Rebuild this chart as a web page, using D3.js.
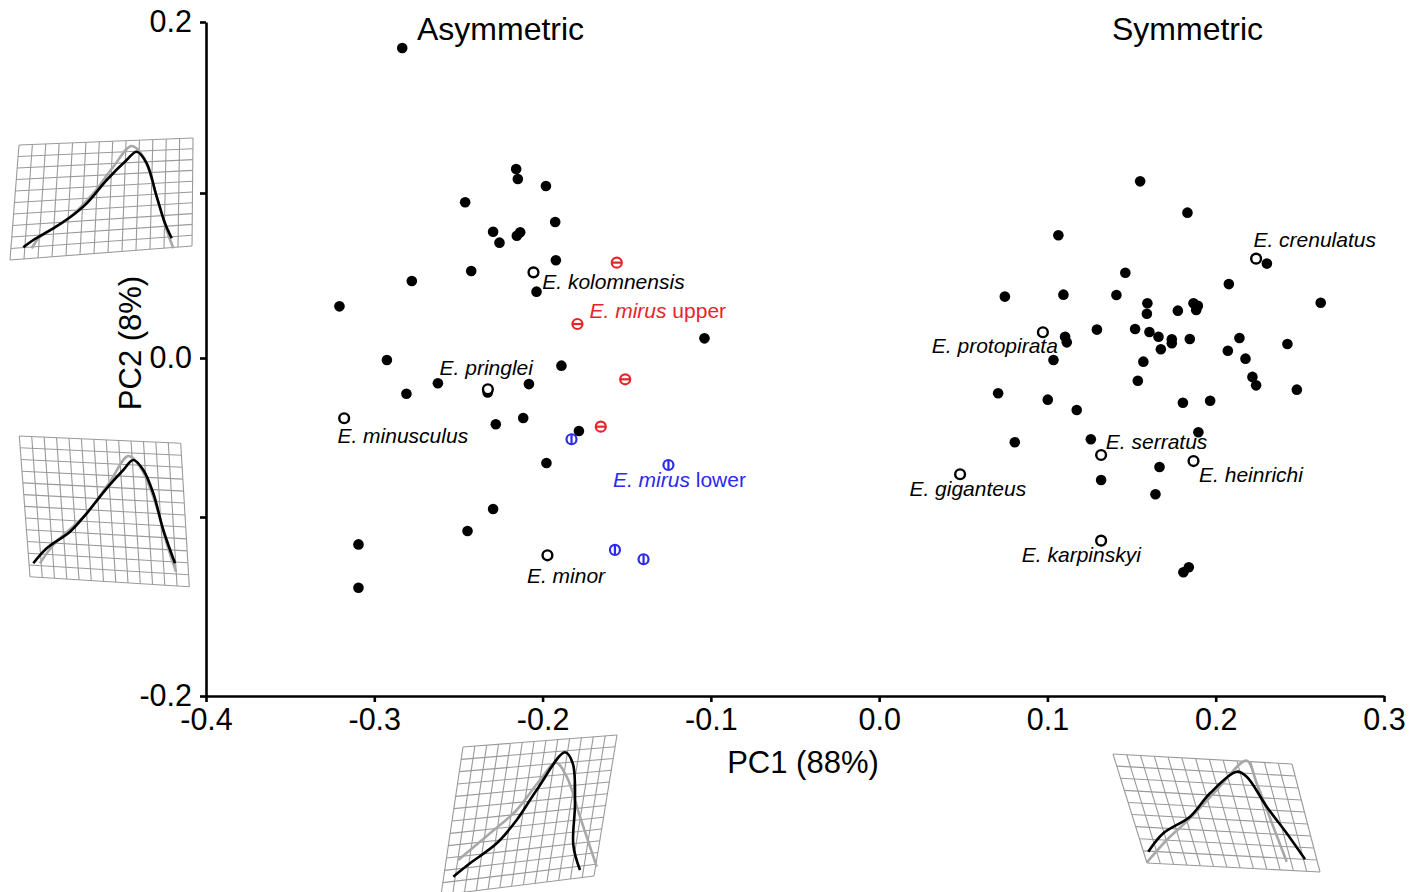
<!DOCTYPE html>
<html>
<head>
<meta charset="utf-8">
<script src="https://cdn.jsdelivr.net/npm/d3@7"></script>
<style>
  body { margin: 0; background: #fff; }
  svg text { font-family: "Liberation Sans", Arial, Helvetica, sans-serif; fill: #000; }
</style>
</head>
<body>
<svg id="chart" width="1421" height="892"></svg>
<script>
// PCA scores: [PC1, PC2]
var filledPoints = [
  [-0.2834, 0.1848], [-0.2157, 0.1140], [-0.2147, 0.1082], [-0.1980, 0.1041],
  [-0.2460, 0.0944], [-0.1925, 0.0824], [-0.2294, 0.0765], [-0.2133, 0.0762],
  [-0.2153, 0.0741], [-0.2256, 0.0699], [-0.1921, 0.0592], [-0.2424, 0.0527],
  [-0.2777, 0.0467], [-0.2036, 0.0402], [-0.3207, 0.0313], [-0.1038, 0.0119],
  [-0.2925, -0.0013], [-0.1888, -0.0048], [-0.2622, -0.0159], [-0.2081, -0.0164],
  [-0.2809, -0.0225], [-0.2326, -0.0217], [-0.2115, -0.0377], [-0.2278, -0.0417],
  [-0.1784, -0.0459], [-0.1977, -0.0660], [-0.2294, -0.0950], [-0.2446, -0.1078],
  [-0.3094, -0.1153], [-0.3094, -0.1395],
  [0.1551, 0.1068], [0.1832, 0.0881], [0.1065, 0.0744], [0.2304, 0.0572],
  [0.1463, 0.0517], [0.2078, 0.0448], [0.0747, 0.0372], [0.1095, 0.0384],
  [0.1410, 0.0382], [0.2624, 0.0335], [0.1594, 0.0332], [0.1591, 0.0268],
  [0.1775, 0.0287], [0.1868, 0.0332], [0.1894, 0.0317], [0.1884, 0.0291],
  [0.1105, 0.0129], [0.1115, 0.0095], [0.1294, 0.0172], [0.1521, 0.0176],
  [0.1606, 0.0158], [0.1660, 0.0129], [0.1739, 0.0113], [0.1739, 0.0089],
  [0.1674, 0.0053], [0.1846, 0.0115], [0.2141, 0.0121], [0.2072, 0.0044],
  [0.2177, -0.0004], [0.2426, 0.0085], [0.1036, -0.0013], [0.1570, -0.0023],
  [0.1537, -0.0143], [0.2218, -0.0119], [0.2240, -0.0172], [0.2482, -0.0199],
  [0.0707, -0.0222], [0.1002, -0.0262], [0.1174, -0.0327], [0.1805, -0.0281],
  [0.1967, -0.0269], [0.0806, -0.0530], [0.1258, -0.0511], [0.1897, -0.0467],
  [0.1666, -0.0686], [0.1319, -0.0767], [0.1642, -0.0857], [0.1840, -0.1281],
  [0.1808, -0.1309]
];

// named type specimens (open circles)
var typeNames = ["kolomnensis", "pringlei", "minusculus", "minor",
  "crenulatus", "protopirata", "serratus", "heinrichi", "giganteus", "karpinskyi"];
var typePoints = [
  [-0.2054, 0.0519], [-0.2325, -0.0197], [-0.3179, -0.0379], [-0.1971, -0.1214],
  [0.2240, 0.0602], [0.0973, 0.0156], [0.1319, -0.0610], [0.1868, -0.0648],
  [0.0481, -0.0731], [0.1319, -0.1132]
];
// where each name sits (start of text, baseline), in PC units
var typeLabelAt = [
  [-0.2002, 0.0418], [-0.2612, -0.0107], [-0.3219, -0.0535], [-0.2093, -0.1369],
  [0.2224, 0.0670], [0.0313, 0.0030], [0.1347, -0.0572], [0.1901, -0.0777],
  [0.0180, -0.0871], [0.0848, -0.1249]
];

var mirusUpper = [[-0.1559, 0.0578], [-0.1793, 0.0206], [-0.1509, -0.0134], [-0.1654, -0.0432]];
var mirusLower = [[-0.1828, -0.0511], [-0.1252, -0.0673], [-0.1570, -0.1184], [-0.1400, -0.1236]];
var mirusLabelAt = { upper: [-0.1721, 0.0242], lower: [-0.1582, -0.0811] };

var xTicks = [-0.4, -0.3, -0.2, -0.1, 0.0, 0.1, 0.2, 0.3];
var yTicks = [-0.2, -0.1, 0.0, 0.1, 0.2];
var yTickLabels = { "-0.2": "-0.2", "0": "0.0", "0.2": "0.2" };

// shape-change pictures: grid corners (TL, TR, BR, BL), grid size, outlines
var insets = [
  { corners: [[19, 145], [193, 138], [192, 246], [10, 260]], cols: 13, rows: 10,
    black: [[23.3,247.3],[33.3,240],[53.3,228.3],[70,217.3],[86.7,203.3],[106.7,180],[126.7,160],[136.7,151.7],[146.7,163.3],[156.7,196.7],[165,223.3],[171.7,238.3]],
    grey: [[31.7,248.3],[40,236.7],[66.7,220],[93.3,193.3],[113.3,166.7],[131.7,146],[143.3,156.7],[156.7,196.7],[166.7,230],[173.3,248.3]] },
  { corners: [[19.3, 436], [180.7, 443.3], [189.3, 586.7], [30, 576.7]], cols: 13, rows: 12,
    black: [[33.3,563.3],[46.7,548.3],[70,531.7],[86.7,513.3],[106.7,488.3],[123.3,470],[133.3,460],[143.3,470],[153.3,493.3],[163.3,530],[175,563.3]],
    grey: [[40,563.3],[53.3,545],[86.7,513.3],[110,481.7],[128.3,456],[140,466.7],[153.3,496.7],[166.7,543.3],[176,571.7]] },
  { corners: [[463, 747], [617, 735], [594, 876], [441, 895]], cols: 13, rows: 12,
    black: [[453.3,876.7],[470,863.3],[496.7,843.3],[516.7,820],[536.7,790],[565,752.3],[572.7,763.3],[575,803.3],[573.3,845],[580,870]],
    grey: [[458.3,860],[490,833.3],[516.7,810],[540,780],[556,762.7],[566.7,776.7],[580,816.7],[596.7,866.7]] },
  { corners: [[1113, 754], [1292, 764], [1320, 872], [1147, 863]], cols: 13, rows: 9,
    black: [[1148.3,851.7],[1163.3,833.3],[1190,816.7],[1210,793.3],[1236.7,771.7],[1246.7,776.7],[1266.7,806.7],[1286.7,833.3],[1305,859.3]],
    grey: [[1146.7,862.7],[1166.7,840],[1190,818.3],[1216.7,790],[1246.7,760.7],[1256.7,783.3],[1273.3,826.7],[1286.7,861.7]] }
];

var red = "#e8242b", blue = "#2b2bf0";

var svg = d3.select("#chart");
var x = d3.scaleLinear().domain([-0.4, 0.3]).range([206, 1384]);
var y = d3.scaleLinear().domain(yTicks).range([696, 517, 358, 193, 22]);

// insets first so axes/points sit on top
var lineGen = d3.line().curve(d3.curveCatmullRom.alpha(0.5));
insets.forEach(function(s) {
  var c = s.corners;
  function at(u, v) {
    var top = [c[0][0] + (c[1][0] - c[0][0]) * u, c[0][1] + (c[1][1] - c[0][1]) * u];
    var bot = [c[3][0] + (c[2][0] - c[3][0]) * u, c[3][1] + (c[2][1] - c[3][1]) * u];
    return [top[0] + (bot[0] - top[0]) * v, top[1] + (bot[1] - top[1]) * v];
  }
  var g = svg.append("g");
  var i;
  for (i = 0; i <= s.cols; i++) {
    g.append("path").attr("d", d3.line()([at(i / s.cols, 0), at(i / s.cols, 1)]))
      .attr("stroke", "#9a9a9a").attr("stroke-width", 1.1).attr("fill", "none");
  }
  for (i = 0; i <= s.rows; i++) {
    g.append("path").attr("d", d3.line()([at(0, i / s.rows), at(1, i / s.rows)]))
      .attr("stroke", "#9a9a9a").attr("stroke-width", 1.1).attr("fill", "none");
  }
  g.append("path").attr("d", lineGen(s.grey)).attr("fill", "none")
    .attr("stroke", "#a8a8a8").attr("stroke-width", 2.6);
  g.append("path").attr("d", lineGen(s.black)).attr("fill", "none")
    .attr("stroke", "#000").attr("stroke-width", 2.6);
});

// axes
var yAxis = d3.axisLeft(y).tickValues(yTicks).tickSize(6).tickSizeOuter(0).tickPadding(8)
  .tickFormat(function(d) { return yTickLabels[String(d)] || ""; });
var xAxis = d3.axisBottom(x).tickValues(xTicks).tickSize(6).tickSizeOuter(0).tickPadding(6)
  .tickFormat(function(d) { return d.toFixed(1).replace("\u2212", "-"); });

var gy = svg.append("g").attr("transform", "translate(" + x(-0.4) + ",0)").call(yAxis);
var gx = svg.append("g").attr("transform", "translate(0," + y(-0.2) + ")").call(xAxis);
[gx, gy].forEach(function(g) {
  g.selectAll("path, line").attr("stroke", "#000").attr("stroke-width", 2.6);
  g.selectAll("text").attr("font-size", 30.5).attr("font-family", null).attr("fill", "#000");
});

svg.append("text").attr("x", 803).attr("y", 773).attr("text-anchor", "middle")
  .attr("font-size", 31).text("PC1 (88%)");
svg.append("text").attr("transform", "translate(141,343) rotate(-90)").attr("text-anchor", "middle")
  .attr("font-size", 31).text("PC2 (8%)");

svg.append("text").attr("x", 417).attr("y", 40).attr("font-size", 32).text("Asymmetric");
svg.append("text").attr("x", 1112).attr("y", 40).attr("font-size", 32).text("Symmetric");

// points
svg.append("g").selectAll("circle").data(filledPoints).join("circle")
  .attr("cx", function(d) { return x(d[0]); }).attr("cy", function(d) { return y(d[1]); })
  .attr("r", 5.3).attr("fill", "#000");

svg.append("g").selectAll("circle").data(typePoints).join("circle")
  .attr("cx", function(d) { return x(d[0]); }).attr("cy", function(d) { return y(d[1]); })
  .attr("r", 4.9).attr("fill", "#fff").attr("stroke", "#000").attr("stroke-width", 2.4);

function mirus(data, colour, vertical) {
  var g = svg.append("g").selectAll("g").data(data).join("g")
    .attr("transform", function(d) { return "translate(" + x(d[0]) + "," + y(d[1]) + ")"; });
  g.append("circle").attr("r", 5).attr("fill", "#fff").attr("stroke", colour).attr("stroke-width", 2.2);
  g.append("line").attr("x1", vertical ? 0 : -5).attr("x2", vertical ? 0 : 5)
    .attr("y1", vertical ? -5 : 0).attr("y2", vertical ? 5 : 0)
    .attr("stroke", colour).attr("stroke-width", 2.2);
}
mirus(mirusUpper, red, false);
mirus(mirusLower, blue, true);

// labels
svg.append("g").selectAll("text").data(typeNames).join("text")
  .attr("x", function(d, i) { return x(typeLabelAt[i][0]); })
  .attr("y", function(d, i) { return y(typeLabelAt[i][1]); })
  .attr("font-size", 21).attr("font-style", "italic")
  .text(function(d) { return "E. " + d; });

[["upper", red], ["lower", blue]].forEach(function(p) {
  var t = svg.append("text").attr("x", x(mirusLabelAt[p[0]][0])).attr("y", y(mirusLabelAt[p[0]][1]))
    .attr("font-size", 21).style("fill", p[1]);
  t.append("tspan").attr("font-style", "italic").text("E. mirus");
  t.append("tspan").text(" " + p[0]);
});
</script>
</body>
</html>
